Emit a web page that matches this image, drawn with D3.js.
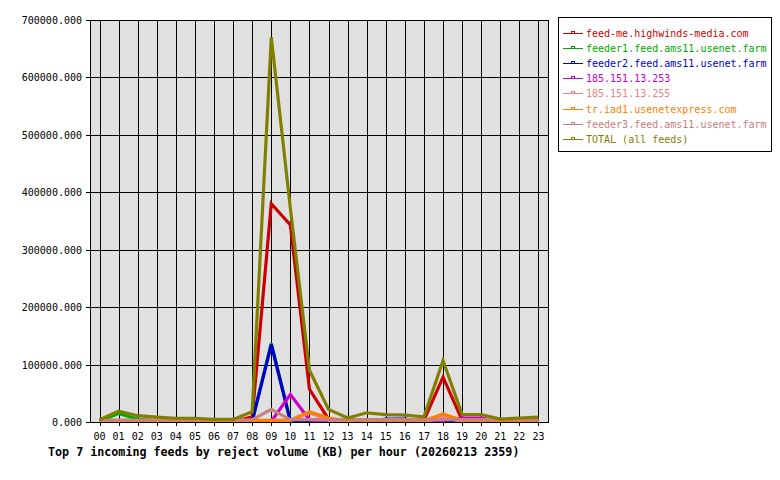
<!DOCTYPE html>
<html><head><meta charset="utf-8">
<script src="https://cdn.jsdelivr.net/npm/d3@7"></script>
<style>body{margin:0;background:#fff}svg{display:block}</style>
</head><body>
<script>
const hours = ["00","01","02","03","04","05","06","07","08","09","10","11","12","13","14","15","16","17","18","19","20","21","22","23"];
const seriesNames = ["feed-me.highwinds-media.com","feeder1.feed.ams11.usenet.farm","feeder2.feed.ams11.usenet.farm","185.151.13.253","185.151.13.255","tr.iad1.usenetexpress.com","feeder3.feed.ams11.usenet.farm","TOTAL (all feeds)"];
const seriesColors = ["#cc0000","#00aa00","#0000cc","#cc00cc","#f08080","#ff8000","#c88080","#808000"];
const feedMe   = [500,1000,1000,500,500,500,500,500,9000,380000,343000,57000,5000,1000,2000,2000,2000,3000,78000,3000,1000,500,500,500];
const feeder1  = [1000,15000,5000,2000,1000,1000,500,500,2000,137000,2000,3000,1000,500,500,500,500,500,3000,500,500,500,500,500];
const feeder2  = [0,0,0,0,0,0,0,0,1000,135000,1000,0,0,0,1000,5000,5000,1000,1000,0,0,0,0,0];
const ip253    = [0,0,0,0,0,0,0,0,0,1000,48000,4000,1000,0,0,0,0,0,3000,7000,7000,1000,0,0];
const ip255    = [0,0,0,0,0,0,0,0,2000,3000,3000,16000,3000,0,0,0,0,0,8000,1000,0,0,0,0];
const iad1     = [500,500,500,500,500,500,500,500,3000,3000,3000,18000,7000,2000,3000,2000,2000,2000,14000,3000,1000,500,500,500];
const feeder3  = [3000,3500,3500,3500,3500,3500,3500,3500,4000,22000,4000,4000,4000,4000,4000,4000,4000,4000,4000,4000,4000,4000,4000,4000];
const total    = [4000,19000,11000,8500,6500,6500,4500,4500,18000,670000,372000,90000,22000,7000,16000,13000,12000,9000,107000,13000,13000,5000,7000,8500];
const yTicks   = [0,100000,200000,300000,400000,500000,600000,700000];
const title = "Top 7 incoming feeds by reject volume (KB) per hour (20260213 2359)";

const allSeries = [feedMe,feeder1,feeder2,ip253,ip255,iad1,feeder3,total];
const W=780,H=480, L=90,R=548,T=20,B=422;
const font = "'DejaVu Sans Mono', monospace";
const svg = d3.select("body").append("svg").attr("width",W).attr("height",H);
const x = d3.scalePoint().domain(hours).range([L,R]).padding(0.5);
const y = d3.scaleLinear().domain([0,700000]).range([B,T]);

svg.append("rect").attr("x",L).attr("y",T).attr("width",R-L).attr("height",B-T).attr("fill","#e0e0e0");
// grid
const g = svg.append("g").attr("shape-rendering","crispEdges");
g.selectAll(".vg").data(hours).join("line").attr("x1",d=>Math.round(x(d))+0.5).attr("x2",d=>Math.round(x(d))+0.5)
  .attr("y1",T).attr("y2",B+4).attr("stroke","#000");
g.selectAll(".hg").data(yTicks).join("line").attr("x1",L-4).attr("x2",R)
  .attr("y1",d=>Math.round(y(d))+0.5).attr("y2",d=>Math.round(y(d))+0.5).attr("stroke","#000");
g.append("rect").attr("x",L+0.5).attr("y",T+0.5).attr("width",R-L).attr("height",B-T).attr("fill","none").attr("stroke","#000");

// axes labels
svg.selectAll(".yl").data(yTicks).join("text").attr("x",L-8).attr("y",d=>y(d)+4)
  .attr("text-anchor","end").attr("font-family",font).attr("font-size","10px").attr("fill","#000")
  .text(d=>d3.format(".3f")(d));
svg.selectAll(".xl").data(hours).join("text").attr("x",d=>x(d)).attr("y",B+18)
  .attr("text-anchor","middle").attr("font-family",font).attr("font-size","10px").attr("fill","#000").text(d=>d);
svg.append("text").attr("x",48).attr("y",456).attr("font-family",font).attr("font-size","11.7px")
  .attr("font-weight","bold").attr("fill","#000").text(title);

// lines
const clipId="plotclip";
svg.append("clipPath").attr("id",clipId).append("rect").attr("x",L+1).attr("y",T).attr("width",R-L-1).attr("height",B-T);
const line = d3.line().x((d,i)=>x(hours[i])).y(d=>y(d));
svg.append("g").attr("clip-path",`url(#${clipId})`).selectAll("path").data(allSeries).join("path")
  .attr("d",line).attr("fill","none").attr("stroke",(d,i)=>seriesColors[i]).attr("stroke-width",3.2)
  .attr("stroke-linejoin","miter");

// legend
const lg = svg.append("g");
lg.append("rect").attr("x",558.5).attr("y",17.5).attr("width",213).attr("height",134).attr("fill","#fff").attr("stroke","#000").attr("shape-rendering","crispEdges");
seriesNames.forEach((n,i)=>{
  const yy = 33 + i*15.1;
  const ly = Math.round(yy);
  lg.append("rect").attr("x",563).attr("y",ly).attr("width",20).attr("height",1).attr("fill",seriesColors[i]);
  lg.append("rect").attr("x",571).attr("y",ly-2).attr("width",4).attr("height",2).attr("fill",seriesColors[i]);
  lg.append("rect").attr("x",572).attr("y",ly-1).attr("width",2).attr("height",1).attr("fill","#fff");
  lg.append("text").attr("x",586).attr("y",yy+4).attr("font-family",font).attr("font-size","10px").attr("fill",seriesColors[i]).text(n);
});
</script>
</body></html>
